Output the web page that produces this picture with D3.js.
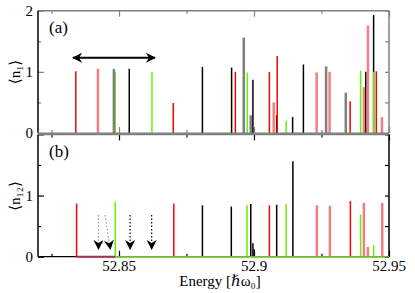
<!DOCTYPE html>
<html>
<head>
<meta charset="utf-8">
<script src="https://cdn.jsdelivr.net/npm/d3@7"></script>
<style>
  body { margin: 0; background: #fff; }
  text { font-family: "Liberation Serif", "DejaVu Serif", serif; }
</style>
</head>
<body>
<div id="chart"></div>
<script>
// panel (a) lines: [energy, <n>]
const aBlack = [[52.8538,1.05],[52.8809,1.08],[52.8917,1.07],[52.8996,0.87],[52.9084,0.29],[52.9143,0.26],[52.9183,1.12],[52.9414,1.0],[52.9443,1.93]];
const aRed = [[52.8340,1.01],[52.8701,0.49],[52.8931,1.0],[52.9057,1.0],[52.9086,1.26],[52.9356,0.52],[52.9453,1.01]];
const aPink = [[52.8422,1.05],[52.9073,0.50],[52.9232,0.99],[52.9280,1.0],[52.9407,0.75],[52.9422,1.76],[52.9474,0.26]];
const aGreen = [[52.8486,1.0],[52.8622,1.0],[52.8975,0.99],[52.9119,0.2],[52.9395,1.02],[52.9443,1.0]];
const aGray = [[52.8481,1.05],[52.8962,1.56],[52.8988,0.29],[52.9267,1.09],[52.9340,0.66]];

// panel (b) lines
const bBlack = [[52.8809,0.84],[52.8916,0.82],[52.8988,0.86],[52.8996,0.22],[52.9001,0.12],[52.9084,0.85],[52.9144,1.56]];
const bRed = [[52.8343,0.87],[52.8703,0.87],[52.9057,0.84],[52.9357,0.91]];
const bPink = [[52.9233,0.84],[52.9281,0.83],[52.9407,0.88],[52.9422,0.16],[52.9475,0.88]];
const bGreen = [[52.8486,0.90],[52.8974,0.84],[52.9119,0.86],[52.9395,0.69],[52.9443,0.19]];

// annotations
const doubleArrow = [52.833, 52.8633, 1.23];
const downArrows = [[52.8424,52.8424,"#999"],[52.8448,52.8468,"#999"],[52.8541,52.8541,"#000"],[52.8621,52.8621,"#000"]];
const arrowTop = 0.68, arrowTip = 0.125;

const xDomain = [52.82, 52.95];
const xMajor = [52.85, 52.9, 52.95];
const xMinor = [52.825, 52.875, 52.925];
const yMajor = [0, 1, 2];
const yMinor = [0.5, 1.5];

const width = 415, height = 293;
const left = 38, right = 389;

const svg = d3.select("#chart").append("svg")
    .attr("width", width)
    .attr("height", height);

const x = d3.scaleLinear().domain(xDomain).range([left, right]);
const yA = d3.scaleLinear().domain([0, 2]).range([133, 10.7]);
const yB = d3.scaleLinear().domain([0, 2]).range([256.7, 134.4]);

const styles = {
    black: { color: "#000", w: 1.5 },
    red: { color: "#ff0000", w: 1.5 },
    pink: { color: "#f08080", w: 2.5 },
    green: { color: "#6cf000", w: 1.5 },
    gray: { color: "#808080", w: 2.5 }
};

function drawFrame(y, top, bottom, yLabels, leftColor, frameColor) {
    const g = svg.append("g");
    // inward ticks on every side
    const bottomAx = d3.axisBottom(x).tickValues(xMajor).tickSize(-6).tickFormat("");
    const bottomMin = d3.axisBottom(x).tickValues(xMinor).tickSize(-3).tickFormat("");
    const topAx = d3.axisTop(x).tickValues(xMajor).tickSize(-6).tickFormat("");
    const topMin = d3.axisTop(x).tickValues(xMinor).tickSize(-3).tickFormat("");
    const leftAx = d3.axisLeft(y).tickValues(yMajor).tickSize(-6).tickPadding(5)
        .tickFormat(d => yLabels.includes(d) ? d : "");
    const leftMin = d3.axisLeft(y).tickValues(yMinor).tickSize(-3).tickFormat("");
    const rightAx = d3.axisRight(y).tickValues(yMajor.concat(yMinor)).tickSize(-4).tickFormat("");

    [[bottomAx, bottom], [bottomMin, bottom]].forEach(([ax, yy]) =>
        g.append("g").attr("transform", `translate(0,${yy})`).call(ax));
    [[topAx, top], [topMin, top]].forEach(([ax, yy]) =>
        g.append("g").attr("transform", `translate(0,${yy})`).call(ax));
    g.append("g").attr("transform", `translate(${left},0)`).call(leftAx);
    g.append("g").attr("transform", `translate(${left},0)`).call(leftMin);
    g.append("g").attr("transform", `translate(${right},0)`).call(rightAx);

    g.selectAll(".domain").remove();
    g.selectAll(".tick line").attr("stroke", frameColor).attr("stroke-width", 1.2);
    g.selectAll(".tick text").attr("font-size", 15).attr("fill", "#000")
        .style("font-family", "Liberation Serif, serif");

    g.append("line").attr("x1", left).attr("x2", right).attr("y1", top).attr("y2", top)
        .attr("stroke", "#808080").attr("stroke-width", 1.5);
    g.append("line").attr("x1", right).attr("x2", right).attr("y1", top).attr("y2", bottom)
        .attr("stroke", frameColor).attr("stroke-width", 1.5);
    g.append("line").attr("x1", left).attr("x2", left).attr("y1", top).attr("y2", bottom)
        .attr("stroke", leftColor).attr("stroke-width", 1.5);
    return g;
}

function drawLines(y, data, style) {
    svg.append("g")
        .selectAll("line")
        .data(data)
        .enter().append("line")
        .attr("x1", d => x(d[0]))
        .attr("x2", d => x(d[0]))
        .attr("y1", y(0))
        .attr("y2", d => y(d[1]))
        .attr("stroke", style.color)
        .attr("stroke-width", style.w);
}

// panel (a)
drawFrame(yA, 10.7, 133, [0, 1, 2], "#000", "#808080");
drawLines(yA, aBlack, styles.black);
drawLines(yA, aRed, styles.red);
drawLines(yA, aPink, styles.pink);
drawLines(yA, aGreen, styles.green);
drawLines(yA, aGray, styles.gray);

// panel (b)
drawFrame(yB, 134.4, 256.7, [0, 1], "#000", "#000");
svg.append("line").attr("x1", left).attr("x2", right).attr("y1", yB(0)).attr("y2", yB(0))
    .attr("stroke", "#000").attr("stroke-width", 1.2);
drawLines(yB, bBlack, styles.black);
drawLines(yB, bRed, styles.red);
drawLines(yB, bPink, styles.pink);
drawLines(yB, bGreen, styles.green);
// data baselines of panel (b)
svg.append("line").attr("x1", x(bRed[0][0])).attr("x2", x(bGreen[0][0]))
    .attr("y1", yB(0)).attr("y2", yB(0)).attr("stroke", "#a8304a").attr("stroke-width", 2);
svg.append("line").attr("x1", x(bGreen[0][0])).attr("x2", right)
    .attr("y1", yB(0)).attr("y2", yB(0)).attr("stroke", "#6cc020").attr("stroke-width", 1.5);

// shared border / gray baseline of panel (a)
svg.append("line").attr("x1", left).attr("x2", right).attr("y1", 133.5).attr("y2", 133.5)
    .attr("stroke", "#808080").attr("stroke-width", 2.2);

// x tick labels
svg.append("g").selectAll("text").data(xMajor).enter().append("text")
    .attr("x", d => x(d)).attr("y", 271)
    .attr("text-anchor", "middle").attr("font-size", 15)
    .text(d => d3.format(".2~f")(d));

svg.append("text").attr("x", 220).attr("y", 286).attr("text-anchor", "middle")
    .attr("font-size", 15).text("Energy [ℏω₀]");

// y axis titles
svg.append("text").attr("transform", "translate(20,72) rotate(-90)")
    .attr("text-anchor", "middle").attr("font-size", 15).text("⟨n₁⟩");
svg.append("text").attr("transform", "translate(20,196) rotate(-90)")
    .attr("text-anchor", "middle").attr("font-size", 15).text("⟨n₁₂⟩");

// panel letters
svg.append("text").attr("x", 49).attr("y", 33).attr("font-size", 17).text("(a)");
svg.append("text").attr("x", 49).attr("y", 157).attr("font-size", 17).text("(b)");

// arrowheads
const defs = svg.append("defs");
defs.append("marker").attr("id", "head").attr("viewBox", "0 0 10 10")
    .attr("refX", 9).attr("refY", 5).attr("markerWidth", 10).attr("markerHeight", 10)
    .attr("markerUnits", "userSpaceOnUse").attr("orient", "auto-start-reverse")
    .append("path").attr("d", "M0,0 L10,5 L0,10 L3,5 Z").attr("fill", "#000");

svg.append("line")
    .attr("x1", x(doubleArrow[0])).attr("x2", x(doubleArrow[1]))
    .attr("y1", yA(doubleArrow[2])).attr("y2", yA(doubleArrow[2]))
    .attr("stroke", "#000").attr("stroke-width", 2)
    .attr("marker-start", "url(#head)").attr("marker-end", "url(#head)");

svg.append("g").selectAll("line").data(downArrows).enter().append("line")
    .attr("x1", d => x(d[0])).attr("x2", d => x(d[1]))
    .attr("y1", yB(arrowTop)).attr("y2", yB(arrowTip))
    .attr("stroke", d => d[2]).attr("stroke-width", 1.2)
    .attr("stroke-dasharray", "1.5,2")
    .attr("marker-end", "url(#head)");
</script>
</body>
</html>
